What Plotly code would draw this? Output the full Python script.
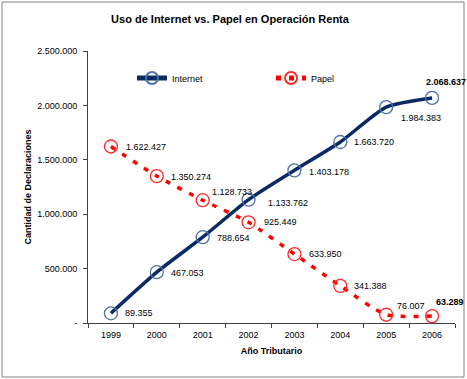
import plotly.graph_objects as go

years = ["1999", "2000", "2001", "2002", "2003", "2004", "2005", "2006"]
internet = [89355, 467053, 788654, 1133762, 1403178, 1663720, 1984383, 2068637]
papel = [1622427, 1350274, 1128733, 925449, 633950, 341388, 76007, 63289]
y_tickvals = [0, 500000, 1000000, 1500000, 2000000, 2500000]
y_ticktext = ["-", "500.000", "1.000.000", "1.500.000", "2.000.000", "2.500.000"]

def fmt(v):
    return f"{v:,}".replace(",", ".")

FONT = "Liberation Sans, Arial, sans-serif"

fig = go.Figure()
fig.add_trace(go.Scatter(
    x=years, y=internet, name="Internet", mode="lines+markers",
    line=dict(color="#0b2a63", width=3.5, shape="spline", smoothing=0.6),
    marker=dict(symbol="circle-open", size=13, color="#4d72a8", line=dict(width=1.3)),
))
fig.add_trace(go.Scatter(
    x=years, y=papel, name="Papel", mode="lines+markers",
    line=dict(color="#ff0000", width=3.5, dash="5px,8px", shape="spline", smoothing=0.6),
    marker=dict(symbol="circle-open", size=13, color="#ff2a2a", line=dict(width=1.3)),
))

# data label offsets (pixels): (xshift, yshift, bold)
int_off = [(12, 0, False), (12, -1, False), (12, -1, False), (17, -3, False),
           (13, -2, False), (12, 0, False), (13, -11, False), (-8, 16, True)]
pap_off = [(13, -1, False), (12, -1, False), (7, 8, False), (13, 0, False),
           (13, 0, False), (12, 0, False), (9, 9, False), (2, 14, True)]

for series, offs in ((internet, int_off), (papel, pap_off)):
    for i, (v, (dx, dy, b)) in enumerate(zip(series, offs)):
        t = fmt(v)
        fig.add_annotation(
            x=i, y=v, xref="x", yref="y", text=f"<b>{t}</b>" if b else t,
            showarrow=False, xanchor="left", yanchor="middle",
            xshift=dx, yshift=dy,
            font=dict(family=FONT, size=9, color="#000000"),
        )

fig.add_shape(type="rect", xref="paper", yref="paper",
              x0=(2 - 88) / 367, x1=(464 - 88) / 367,
              y0=(323 - 377) / 272, y1=(323 - 2) / 272,
              line=dict(color="#808080", width=1), fillcolor="rgba(0,0,0,0)", layer="below")

fig.update_layout(
    width=467, height=379,
    margin=dict(l=88, r=12, t=51, b=56, autoexpand=False),
    paper_bgcolor="white", plot_bgcolor="white",
    font=dict(family=FONT, size=9, color="#000000"),
    title=dict(text="<b>Uso de Internet vs. Papel en Operación Renta</b>",
               x=(230) / 467, xanchor="center", y=1 - 19 / 379, yanchor="middle",
               font=dict(family=FONT, size=11, color="#000000")),
    showlegend=True,
    legend=dict(orientation="h", x=(132 - 88) / 367, y=(323 - 78) / 272,
                xanchor="left", yanchor="middle", bgcolor="rgba(0,0,0,0)",
                entrywidth=94, entrywidthmode="pixels", itemsizing="constant",
                font=dict(family=FONT, size=9, color="#000000")),
    xaxis=dict(type="category", range=[-0.5, 7.5], tickson="boundaries",
               ticks="outside", ticklen=4, tickcolor="#404040", automargin=False,
               ticklabelstandoff=3,
               showline=True, linecolor="#404040", linewidth=1,
               showgrid=False, zeroline=False,
               tickfont=dict(family=FONT, size=9),
               title=dict(text="<b>Año Tributario</b>", standoff=8,
                          font=dict(family=FONT, size=9))),
    yaxis=dict(range=[0, 2500000], tickmode="array", tickvals=y_tickvals,
               ticktext=y_ticktext, ticks="outside", ticklen=4, tickcolor="#404040",
               ticklabelstandoff=4,
               showline=True, linecolor="#404040", linewidth=1, automargin=False,
               showgrid=False, zeroline=False,
               tickfont=dict(family=FONT, size=9),
               title=dict(text="<b>Cantidad de Declaraciones</b>", standoff=4,
                          font=dict(family=FONT, size=9))),
)

fig.write_html("out.html", config={"displayModeBar": False},
               post_script="document.body.style.margin='0';document.body.style.overflow='hidden';")
